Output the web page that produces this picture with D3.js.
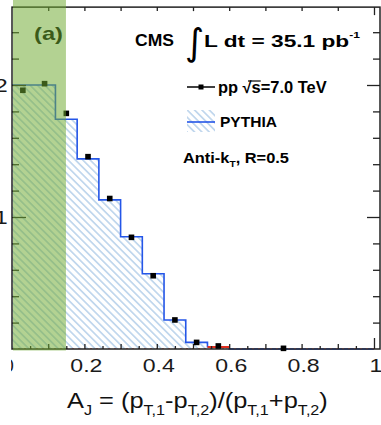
<!DOCTYPE html>
<html><head><meta charset="utf-8">
<script src="https://cdn.jsdelivr.net/npm/d3@7"></script>
<style>html,body{margin:0;padding:0;background:#fff;overflow:hidden}svg{display:block}</style>
</head><body>
<svg id="c" width="381" height="425"></svg>
<script>
// ---- data ----
const binEdges   = [0, 0.06, 0.12, 0.18, 0.24, 0.30, 0.36, 0.42, 0.48, 0.54, 0.60];
const pythiaVals = [2.00, 2.00, 1.74, 1.44, 1.13, 0.85, 0.57, 0.22, 0.05, 0.017];
const dataX      = [0.03, 0.09, 0.15, 0.21, 0.27, 0.33, 0.39, 0.45, 0.51, 0.57, 0.75];
const dataY      = [1.96, 2.01, 1.785, 1.457, 1.14, 0.846, 0.555, 0.22, 0.05, 0.023, 0.005];
const redEdges   = [0.54, 0.60];
const redVals    = [0.015];
const bandRange  = [0, 0.149];
const yMajorTicks = [1, 2];
const yMinorTicks = [0.2, 0.4, 0.6, 0.8, 1.2, 1.4, 1.6, 1.8, 2.2, 2.4];
const yLabels     = ["1", "2"];
const xTenthTicks = [0.1, 0.2, 0.3, 0.4, 0.5, 0.6, 0.7, 0.8, 0.9];
const xHalfTicks  = [0.05, 0.15, 0.25, 0.35, 0.45, 0.55, 0.65, 0.75, 0.85, 0.95];
const xLabelTicks = [0.2, 0.4, 0.6, 0.8, 1];
const xLabels     = ["0.2", "0.4", "0.6", "0.8", "1"];

const FONT = "'Liberation Sans', Arial, Helvetica, sans-serif";
const svg = d3.select("#c");
const x = d3.scaleLinear().domain([0, 1.0166]).range([12, 380]);
const y = d3.scaleLinear().domain([0, 1]).range([349, 217]);
const yTop = 2.59;

const defs = svg.append("defs");
const pat = defs.append("pattern").attr("id", "hatch").attr("patternUnits", "userSpaceOnUse")
  .attr("width", 5.2).attr("height", 10).attr("patternTransform", "rotate(-45)");
pat.append("line").attr("x1", 2.6).attr("x2", 2.6).attr("y1", 0).attr("y2", 10)
  .attr("stroke", "#93b9e0").attr("stroke-width", 1);
defs.append("clipPath").attr("id", "zeroclip").append("rect")
  .attr("x", 11).attr("y", 340).attr("width", 20).attr("height", 50);

// ---- PYTHIA histogram ----
const stepPts = binEdges.map((e, i) => [e, i < pythiaVals.length ? pythiaVals[i] : pythiaVals[pythiaVals.length - 1]]);
svg.append("path").datum(stepPts)
  .attr("d", d3.area().curve(d3.curveStepAfter).x(d => x(d[0])).y0(y(0)).y1(d => y(d[1])))
  .attr("fill", "url(#hatch)");
svg.append("path").datum(stepPts.concat([[binEdges[binEdges.length - 1], 0], [1, 0]]))
  .attr("d", d3.line().x(d => x(d[0])).y(d => y(d[1])).curve(d3.curveStepAfter))
  .attr("fill", "none").attr("stroke", "#2456e8").attr("stroke-width", 1.6);

// red histogram (near zero)
svg.append("line").attr("x1", x(0)).attr("x2", x(1)).attr("y1", y(0) - 0.5).attr("y2", y(0) - 0.5)
  .attr("stroke", "#f08a8a").attr("stroke-width", 1).attr("stroke-dasharray", "2,4");
svg.append("path").datum([[redEdges[0], redVals[0]], [redEdges[1], redVals[0]]])
  .attr("d", d3.line().x(d => x(d[0])).y(d => y(d[1])))
  .attr("stroke", "#e03020").attr("stroke-width", 2);

// ---- frame & axes ----
const frameC = "#222";
svg.append("rect").attr("x", x(0)).attr("y", y(yTop)).attr("width", x(1.0166) - x(0)).attr("height", y(0) - y(yTop))
  .attr("fill", "none").attr("stroke", frameC).attr("stroke-width", 1.5);

function ticks(axis, tr, vals, size) {
  const g = svg.append("g").attr("transform", tr)
    .call(axis.tickValues(vals).tickSize(size).tickFormat(""));
  g.select(".domain").remove();
  g.selectAll("line").attr("stroke", frameC).attr("stroke-width", 1.3);
  return g;
}
ticks(d3.axisRight(y), `translate(${x(0)},0)`, yMinorTicks, 7);
ticks(d3.axisRight(y), `translate(${x(0)},0)`, yMajorTicks, 14);
ticks(d3.axisLeft(y), `translate(${x(1.0166)},0)`, yMinorTicks, 7);
ticks(d3.axisLeft(y), `translate(${x(1.0166)},0)`, yMajorTicks, 13);
ticks(d3.axisBottom(x), `translate(0,${y(yTop)})`, xTenthTicks, 4);
ticks(d3.axisBottom(x), `translate(0,${y(yTop)})`, [1], 8);
ticks(d3.axisTop(x), `translate(0,${y(0)})`, xHalfTicks, 3);
ticks(d3.axisTop(x), `translate(0,${y(0)})`, xTenthTicks, 5);
ticks(d3.axisTop(x), `translate(0,${y(0)})`, [1], 11);

// labels
const yl = svg.append("g").attr("transform", `translate(${x(0)},0)`)
  .call(d3.axisLeft(y).tickValues(yMajorTicks).tickSize(0).tickPadding(3.5).tickFormat((d, i) => yLabels[i]));
yl.select(".domain").remove();
yl.selectAll("text").attr("font-family", FONT).attr("font-size", 19).attr("fill", "#1a1a1a")
  .attr("transform", "scale(1.25,1)");
const xl = svg.append("g").attr("transform", `translate(1.5,${y(0)})`)
  .call(d3.axisBottom(x).tickValues(xLabelTicks).tickSize(0).tickPadding(10).tickFormat((d, i) => xLabels[i]));
xl.select(".domain").remove();
xl.selectAll("text").attr("font-family", FONT).attr("font-size", 18.5).attr("fill", "#1a1a1a")
  .attr("transform", "scale(1.25,1)");
svg.append("g").attr("clip-path", "url(#zeroclip)")
  .append("text").attr("x", x(0) + 1.8).attr("y", 372).attr("text-anchor", "end")
  .attr("font-family", FONT).attr("font-size", 18.5).attr("fill", "#1a1a1a").text("0");

// ---- data points ----
svg.append("g").selectAll("rect").data(dataX.map((d, i) => [d, dataY[i]])).join("rect")
  .attr("x", d => x(d[0]) - 2.8).attr("y", d => y(d[1]) - 2.8).attr("width", 5.6).attr("height", 5.6)
  .attr("fill", "#000");

// ---- texts ----
function fit(sel, x0, x1) {
  const bb = sel.node().getBBox();
  const s = (x1 - x0) / bb.width;
  sel.attr("transform", `translate(${x0},0) scale(${s},1) translate(${-bb.x},0)`);
}
const ta = svg.append("text").attr("x", 0).attr("y", 40).attr("font-family", FONT).attr("font-weight", "bold")
  .attr("font-size", 19).attr("fill", "#000").text("(a)");
fit(ta, 34, 63);
const tc = svg.append("text").attr("x", 0).attr("y", 46).attr("font-family", FONT).attr("font-weight", "bold")
  .attr("font-size", 16.5).attr("fill", "#000").text("CMS");
fit(tc, 135, 174);
svg.append("text").attr("x", 185).attr("y", 55).attr("font-family", "'DejaVu Sans', sans-serif")
  .attr("font-size", 37).attr("fill", "#000").text("∫");
const tl = svg.append("text").attr("x", 0).attr("y", 47).attr("font-family", FONT).attr("font-weight", "bold")
  .attr("font-size", 17).attr("fill", "#000");
tl.append("tspan").text("L dt = 35.1 pb");
tl.append("tspan").attr("font-size", 9).attr("dy", -9).text("-1");
fit(tl, 204, 360);

// legend
svg.append("line").attr("x1", 187).attr("x2", 215).attr("y1", 87).attr("y2", 87).attr("stroke", "#000").attr("stroke-width", 1.5);
svg.append("rect").attr("x", 198.5).attr("y", 84.5).attr("width", 5).attr("height", 5).attr("fill", "#000");
const tpp = svg.append("text").attr("x", 0).attr("y", 93).attr("font-family", FONT).attr("font-weight", "bold")
  .attr("font-size", 16).attr("fill", "#000").text("pp √s=7.0 TeV");
fit(tpp, 218, 327);
{
  const n = tpp.node();
  const e = n.getExtentOfChar(4);
  const sq = n.getExtentOfChar(3);
  svg.append("line").attr("x1", sq.x + sq.width * 0.6).attr("x2", e.x + e.width)
    .attr("y1", 81).attr("y2", 81).attr("stroke", "#000").attr("stroke-width", 1.2)
    .attr("transform", tpp.attr("transform"));
}
svg.append("rect").attr("x", 187).attr("y", 110).attr("width", 28).attr("height", 22).attr("fill", "url(#hatch)");
svg.append("line").attr("x1", 187).attr("x2", 215).attr("y1", 122).attr("y2", 122).attr("stroke", "#2456e8").attr("stroke-width", 1.6);
const tpy = svg.append("text").attr("x", 0).attr("y", 127).attr("font-family", FONT).attr("font-weight", "bold")
  .attr("font-size", 15.5).attr("fill", "#000").text("PYTHIA");
fit(tpy, 220, 277);
const tak = svg.append("text").attr("x", 0).attr("y", 163).attr("font-family", FONT).attr("font-weight", "bold")
  .attr("font-size", 14.5).attr("fill", "#000");
tak.append("tspan").text("Anti-k");
tak.append("tspan").attr("font-size", 9).attr("dy", 4).text("T");
tak.append("tspan").attr("dy", -4).text(", R=0.5");
fit(tak, 183, 289);

// axis title
const tt = svg.append("text").attr("x", 0).attr("y", 408).attr("font-family", FONT)
  .attr("font-size", 22).attr("fill", "#111");
const parts = [["A", 0], ["J", 1], [" = (p", 0], ["T,1", 1], ["-p", 0], ["T,2", 1], [")/(p", 0], ["T,1", 1], ["+p", 0], ["T,2", 1], [")", 0]];
let prev = 0;
parts.forEach(([t, sub]) => {
  const dy = sub ? 7 : (prev ? -7 : 0);
  tt.append("tspan").attr("font-size", sub ? 14 : 22).attr("dy", dy).text(t);
  prev = sub;
});
fit(tt, 67, 328);

// ---- green highlight band (overlay) ----
svg.append("rect").attr("x", x(bandRange[0]) + 1).attr("y", 0)
  .attr("width", x(bandRange[1]) - x(bandRange[0]) - 1).attr("height", 350.5)
  .attr("fill", "rgb(111,170,49)").attr("fill-opacity", 0.53);
</script>
</body></html>
